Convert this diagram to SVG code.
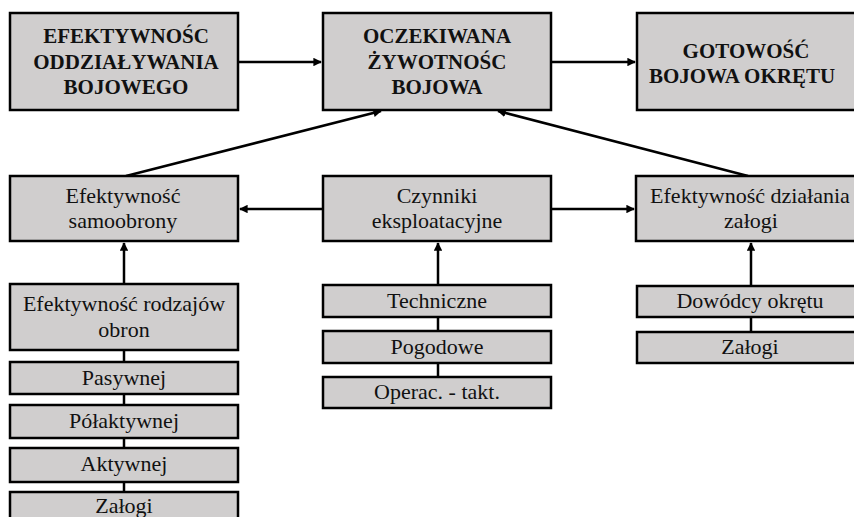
<svg xmlns="http://www.w3.org/2000/svg" width="854" height="517" viewBox="0 0 854 517">
  <style>
    .box { fill: #d0cece; stroke: #000; stroke-width: 2.5; }
    .ln { stroke: #000; stroke-width: 2.5; fill: none; }
  </style>
  <defs>
    <marker id="arr" viewBox="0 0 10 10" refX="9" refY="5" markerWidth="3.4" markerHeight="3.4" markerUnits="strokeWidth" orient="auto">
      <path d="M0,0 L10,5 L0,10 z" fill="#000"/>
    </marker>
  </defs>
  <rect width="854" height="517" fill="#fff"/>

  <g id="connectors">
    <line class="ln" x1="238" y1="62" x2="321" y2="62" marker-end="url(#arr)"/>
    <line class="ln" x1="551" y1="62" x2="635" y2="62" marker-end="url(#arr)"/>
    <line class="ln" x1="126" y1="176" x2="381" y2="111" marker-end="url(#arr)"/>
    <line class="ln" x1="748" y1="176" x2="498" y2="111" marker-end="url(#arr)"/>
    <line class="ln" x1="323" y1="209" x2="240" y2="209" marker-end="url(#arr)"/>
    <line class="ln" x1="551" y1="209" x2="634" y2="209" marker-end="url(#arr)"/>
    <line class="ln" x1="124" y1="284" x2="124" y2="243" marker-end="url(#arr)"/>
    <line class="ln" x1="438" y1="285" x2="438" y2="243" marker-end="url(#arr)"/>
    <line class="ln" x1="751" y1="286" x2="751" y2="243" marker-end="url(#arr)"/>
    <line class="ln" x1="124" y1="350" x2="124" y2="492"/>
    <line class="ln" x1="438" y1="317" x2="438" y2="377"/>
    <line class="ln" x1="751" y1="317" x2="751" y2="332"/>
  </g>

  <!-- header boxes: bold caps -->
  <g id="n-efekt-oddz">
    <rect class="box" x="10" y="13" width="228" height="97"/>
    <text font-family="Liberation Serif" font-weight="bold" font-size="21" text-anchor="middle" fill="#111" x="126" y="43">EFEKTYWNOŚC</text>
    <text font-family="Liberation Serif" font-weight="bold" font-size="21" text-anchor="middle" fill="#111" x="126" y="69">ODDZIAŁYWANIA</text>
    <text font-family="Liberation Serif" font-weight="bold" font-size="21" text-anchor="middle" fill="#111" x="126" y="94">BOJOWEGO</text>
  </g>
  <g id="n-zywotnosc">
    <rect class="box" x="323" y="13" width="228" height="97"/>
    <text font-family="Liberation Serif" font-weight="bold" font-size="21" text-anchor="middle" fill="#111" x="437" y="43">OCZEKIWANA</text>
    <text font-family="Liberation Serif" font-weight="bold" font-size="21" text-anchor="middle" fill="#111" x="437" y="69">ŻYWOTNOŚC</text>
    <text font-family="Liberation Serif" font-weight="bold" font-size="21" text-anchor="middle" fill="#111" x="437" y="94">BOJOWA</text>
  </g>
  <g id="n-gotowosc">
    <rect class="box" x="637" y="13" width="230" height="97"/>
    <text font-family="Liberation Serif" font-weight="bold" font-size="21" text-anchor="middle" fill="#111" x="746" y="58">GOTOWOŚĆ</text>
    <text font-family="Liberation Serif" font-weight="bold" font-size="21" text-anchor="middle" fill="#111" x="742" y="83">BOJOWA OKRĘTU</text>
  </g>

  <!-- second row -->
  <g id="n-samoobrona">
    <rect class="box" x="10" y="176" width="228" height="65"/>
    <text font-family="Liberation Serif" font-size="22" text-anchor="middle" fill="#111" x="123" y="203">Efektywność</text>
    <text font-family="Liberation Serif" font-size="22" text-anchor="middle" fill="#111" x="123" y="228">samoobrony</text>
  </g>
  <g id="n-czynniki">
    <rect class="box" x="323" y="176" width="228" height="65"/>
    <text font-family="Liberation Serif" font-size="22" text-anchor="middle" fill="#111" x="437" y="203">Czynniki</text>
    <text font-family="Liberation Serif" font-size="22" text-anchor="middle" fill="#111" x="437" y="228">eksploatacyjne</text>
  </g>
  <g id="n-zaloga">
    <rect class="box" x="636" y="176" width="230" height="65"/>
    <text font-family="Liberation Serif" font-size="22" text-anchor="middle" fill="#111" x="750" y="203">Efektywność działania</text>
    <text font-family="Liberation Serif" font-size="22" text-anchor="middle" fill="#111" x="751" y="228">załogi</text>
  </g>

  <!-- left column: types of defence -->
  <g id="n-rodzaje">
    <rect class="box" x="10" y="284" width="228" height="66"/>
    <text font-family="Liberation Serif" font-size="22" text-anchor="middle" fill="#111" x="124" y="311">Efektywność rodzajów</text>
    <text font-family="Liberation Serif" font-size="22" text-anchor="middle" fill="#111" x="124" y="337">obron</text>
  </g>
  <g id="n-pasywnej">
    <rect class="box" x="10" y="362" width="228" height="32"/>
    <text font-family="Liberation Serif" font-size="22" text-anchor="middle" fill="#111" x="124" y="385">Pasywnej</text>
  </g>
  <g id="n-polaktywnej">
    <rect class="box" x="10" y="405" width="228" height="33"/>
    <text font-family="Liberation Serif" font-size="22" text-anchor="middle" fill="#111" x="124" y="428">Półaktywnej</text>
  </g>
  <g id="n-aktywnej">
    <rect class="box" x="10" y="448" width="228" height="34"/>
    <text font-family="Liberation Serif" font-size="22" text-anchor="middle" fill="#111" x="124" y="471">Aktywnej</text>
  </g>
  <g id="n-zalogi-l">
    <rect class="box" x="10" y="492" width="228" height="40"/>
    <text font-family="Liberation Serif" font-size="22" text-anchor="middle" fill="#111" x="124" y="513">Załogi</text>
  </g>

  <!-- middle column: operating factors -->
  <g id="n-techniczne">
    <rect class="box" x="323" y="285" width="228" height="32"/>
    <text font-family="Liberation Serif" font-size="22" text-anchor="middle" fill="#111" x="437" y="308">Techniczne</text>
  </g>
  <g id="n-pogodowe">
    <rect class="box" x="323" y="331" width="228" height="32"/>
    <text font-family="Liberation Serif" font-size="22" text-anchor="middle" fill="#111" x="437" y="354">Pogodowe</text>
  </g>
  <g id="n-operac">
    <rect class="box" x="323" y="377" width="228" height="31"/>
    <text font-family="Liberation Serif" font-size="22" text-anchor="middle" fill="#111" x="437" y="399">Operac. - takt.</text>
  </g>

  <!-- right column: crew -->
  <g id="n-dowodcy">
    <rect class="box" x="637" y="286" width="230" height="31"/>
    <text font-family="Liberation Serif" font-size="22" text-anchor="middle" fill="#111" x="750" y="308">Dowódcy okrętu</text>
  </g>
  <g id="n-zalogi-r">
    <rect class="box" x="637" y="332" width="230" height="31"/>
    <text font-family="Liberation Serif" font-size="22" text-anchor="middle" fill="#111" x="750" y="354">Załogi</text>
  </g>
</svg>
